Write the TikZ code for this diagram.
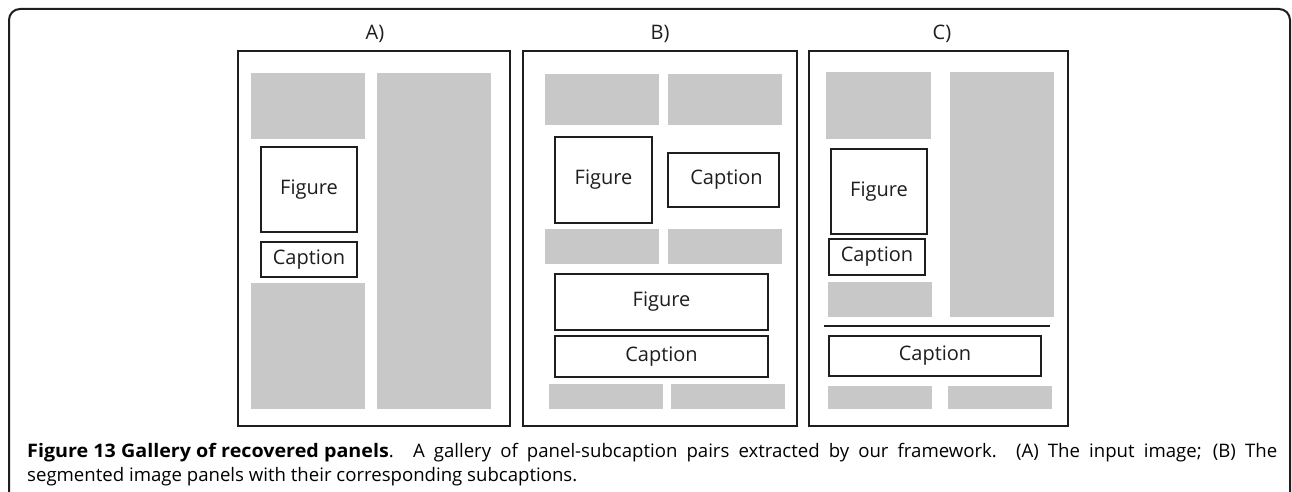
\documentclass[tikz,border=0pt]{standalone}
\usepackage{fontspec}
\setmainfont{Open Sans}
\definecolor{blockgray}{HTML}{C8C8C8}
\definecolor{ink}{HTML}{1E1E1E}
\tikzset{
  panel/.style={draw=ink, line width=2pt, fill=white},
  grayblk/.style={fill=blockgray, draw=none},
  tagbox/.style={draw=ink, line width=2pt, fill=white, font=\fontsize{20}{24}\selectfont, text=ink},
  plabel/.style={font=\fontsize{20}{24}\selectfont, text=ink, inner sep=0pt},
  captext/.style={anchor=base west, inner sep=0pt, font=\fontsize{18.6}{24}\selectfont, text=black},
}
% name, x1, y1, x2, y2, style, text
\newcommand\mkbox[7]{%
  \node[#6, anchor=north west, inner sep=0pt, minimum width=#4pt-#2pt, minimum height=#5pt-#3pt] (#1) at (#2,-#3) {#7};}
\begin{document}
\begin{tikzpicture}[x=1pt,y=1pt]
\useasboundingbox (0,0) rectangle (1292,-492);
\draw[line width=2pt, draw=ink, rounded corners=11pt] (9,-500) -- (9,-9) -- (1290,-9) -- (1290,-500);

% Panel A
\mkbox{pA}{237}{50}{509}{425}{panel}{}
\node[plabel] (lA) at (375,-34) {A)};
\mkbox{aG1}{251}{73}{365}{139}{grayblk}{}
\mkbox{aG2}{377}{73}{491}{409}{grayblk}{}
\mkbox{aG3}{251}{283}{365}{409}{grayblk}{}
\mkbox{aF}{260}{146}{356}{231}{tagbox}{Figure}
\mkbox{aC}{260}{241}{356}{276}{tagbox}{Caption}

% Panel B
\mkbox{pB}{522}{50}{796}{425}{panel}{}
\node[plabel] (lB) at (660,-34) {B)};
\mkbox{bG1}{545}{74}{659}{125}{grayblk}{}
\mkbox{bG2}{668}{74}{782}{125}{grayblk}{}
\mkbox{bF1}{554}{136}{651}{222}{tagbox}{Figure}
\mkbox{bC1}{667}{152}{778}{206}{tagbox}{\hspace*{6pt}Caption}
\mkbox{bG3}{545}{229}{659}{264}{grayblk}{}
\mkbox{bG4}{668}{229}{782}{264}{grayblk}{}
\mkbox{bF2}{554}{273}{767}{329}{tagbox}{Figure}
\mkbox{bC2}{554}{335}{767}{376}{tagbox}{Caption}
\mkbox{bG5}{549}{384}{663}{409}{grayblk}{}
\mkbox{bG6}{671}{384}{785}{409}{grayblk}{}

% Panel C
\mkbox{pC}{808}{50}{1067}{425}{panel}{}
\node[plabel] (lC) at (942,-34) {C)};
\mkbox{cG1}{826}{72}{931}{139}{grayblk}{}
\mkbox{cG2}{950}{72}{1054}{317}{grayblk}{}
\mkbox{cG3}{828}{282}{932}{317}{grayblk}{}
\mkbox{cF}{830}{148}{926}{233}{tagbox}{Figure}
\mkbox{cC1}{828}{238}{924}{274}{tagbox}{Caption}
\coordinate (sepL) at (824,-326);
\coordinate (sepR) at (1050,-326);
\draw[line width=2pt, draw=ink] (sepL) -- (sepR);
\mkbox{cC2}{828}{335}{1040}{375}{tagbox}{Caption}
\mkbox{cG4}{828}{386}{932}{409}{grayblk}{}
\mkbox{cG5}{948}{386}{1052}{409}{grayblk}{}

% Caption text
\node[captext] (cap1) at (27,-457)
  {\makebox[1250pt][s]{\scalebox{1.06}[1]{\textbf{Figure 13 Gallery of recovered panels}}. A gallery of panel-subcaption pairs extracted by our framework. (A) The input image; (B) The}};
\node[captext] (cap2) at (27,-481)
  {segmented image panels with their corresponding subcaptions.};
\end{tikzpicture}
\end{document}
